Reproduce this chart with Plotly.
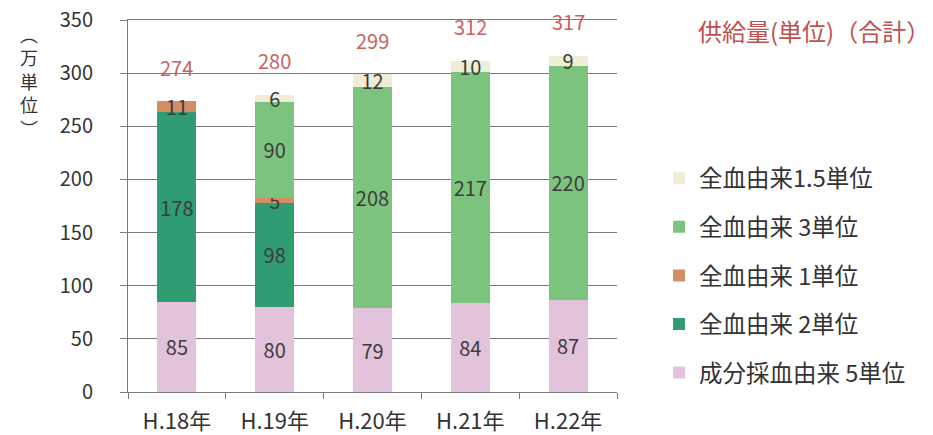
import plotly.graph_objects as go

categories = ["H.18年", "H.19年", "H.20年", "H.21年", "H.22年"]
series_names = ["成分採血由来 5単位", "全血由来 2単位", "全血由来 1単位", "全血由来 3単位", "全血由来1.5単位"]
pink_5 = [85, 80, 79, 84, 87]
dgreen_2 = [178, 98, 0, 0, 0]
orange_1 = [11, 5, 0, 0, 0]
lgreen_3 = [0, 90, 208, 217, 220]
cream_15 = [0, 6, 12, 10, 9]
totals = [274, 280, 299, 312, 317]
y_ticks = [0, 50, 100, 150, 200, 250, 300, 350]

colors = ["#e3c3dc", "#2f9c72", "#d38f63", "#7cc47e", "#efedd6"]
FONT = "Noto Sans CJK JP"

fig = go.Figure()
all_series = [pink_5, dgreen_2, orange_1, lgreen_3, cream_15]
for i, (name, vals) in enumerate(zip(series_names, all_series)):
    fig.add_trace(go.Bar(
        x=categories, y=vals, name=name,
        marker=dict(color=colors[i], line=dict(width=0)),
        text=[str(v) if v else "" for v in vals],
        textposition="inside", insidetextanchor="middle",
        constraintext="none", textangle=0,
        textfont=dict(family=FONT, size=20, color="#3c3c3c"),
        legendgroup=str(i), legendrank=10 - i,
        hoverinfo="skip",
    ))

for c, t in zip(categories, totals):
    fig.add_annotation(x=c, y=t, text=str(t), showarrow=False, yanchor="bottom",
                       yshift=17, font=dict(family=FONT, size=20, color="#c8645e"))

fig.add_annotation(xref="paper", yref="paper", x=1.1616, y=0.973, xanchor="left", yanchor="middle",
                   text="供給量(単位)（合計）", showarrow=False,
                   font=dict(family=FONT, size=24, color="#c0504d"))

fig.add_annotation(xref="paper", yref="paper", x=-0.2025, y=0.835, xanchor="center", yanchor="middle",
                   text="︵<br>万<br>単<br>位<br>︶", showarrow=False,
                   font=dict(family=FONT, size=18, color="#333333"))

fig.update_layout(
    width=933, height=435,
    barmode="stack", bargap=0.6,
    margin=dict(l=128, r=316, t=20, b=43, autoexpand=False),
    paper_bgcolor="white", plot_bgcolor="white",
    font=dict(family=FONT, color="#333333"),
    legend=dict(x=1.086, y=0.633, xanchor="left", yanchor="top",
                traceorder="grouped", tracegroupgap=15,
                font=dict(family=FONT, size=23.5, color="#333333"),
                itemwidth=30),
    showlegend=True,
)
fig.update_yaxes(range=[0, 350], tickvals=y_ticks, showgrid=True, gridcolor="#7a7a7a", gridwidth=1,
                 showline=True, linecolor="#7a7a7a", ticks="outside", ticklen=7, tickcolor="#7a7a7a",
                 ticklabelstandoff=23, ticklabeloverflow="allow",
                 tickfont=dict(family=FONT, size=20, color="#333333"), zeroline=False)
fig.update_xaxes(showline=True, mirror=True, linecolor="#7a7a7a", ticks="outside", tickson="boundaries",
                 ticklen=6, tickcolor="#7a7a7a", ticklabelstandoff=10, ticklabeloverflow="allow",
                 tickfont=dict(family=FONT, size=22, color="#333333"))

fig.write_html("out.html", config={"displayModeBar": False},
               post_script="document.body.style.margin='0';")
